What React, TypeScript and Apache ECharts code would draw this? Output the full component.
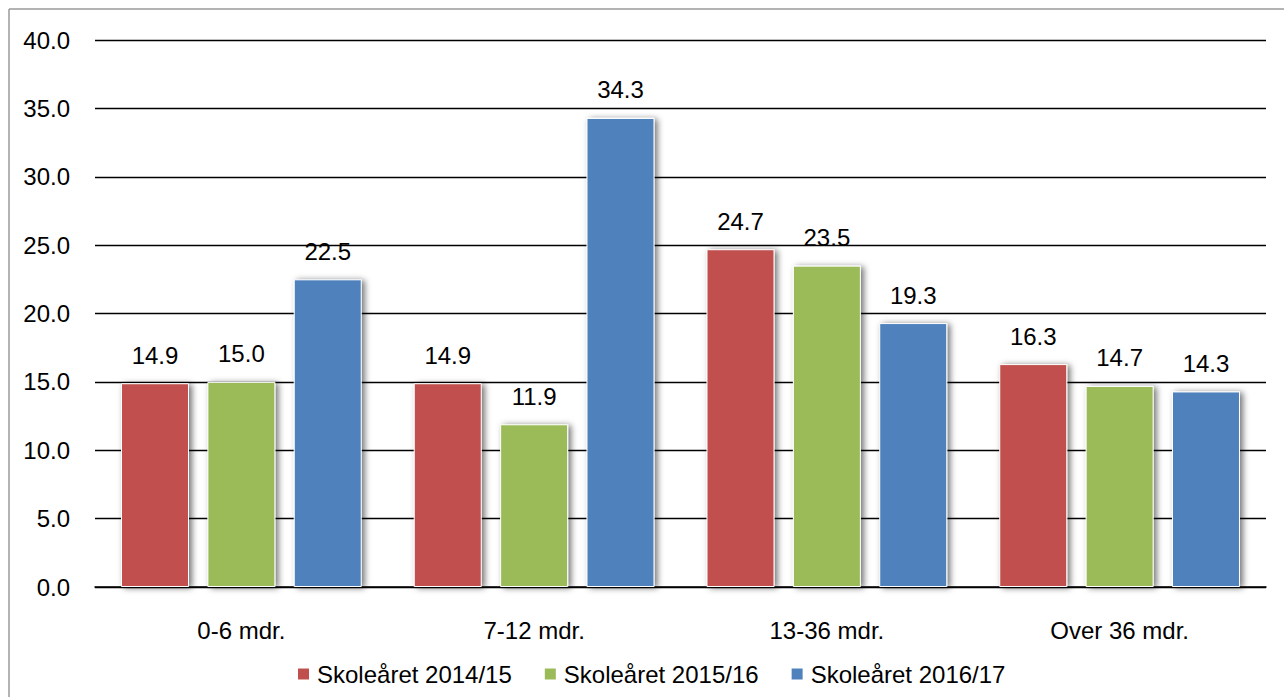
import React, { useEffect, useRef } from "react";
import * as echarts from "echarts";

const categories = ["0-6 mdr.", "7-12 mdr.", "13-36 mdr.", "Over 36 mdr."];
const seriesNames = ["Skoleåret 2014/15", "Skoleåret 2015/16", "Skoleåret 2016/17"];
const values2014 = [14.9, 14.9, 24.7, 16.3];
const values2015 = [15.0, 11.9, 23.5, 14.7];
const values2016 = [22.5, 34.3, 19.3, 14.3];
const colors = ["#C0504D", "#9BBB59", "#4F81BD"];

const FONT = "'Liberation Sans', Arial, sans-serif";
const FS = 24;

export default function App() {
  const ref = useRef<HTMLDivElement>(null);
  useEffect(() => {
    if (!ref.current) return;
    const chart = echarts.init(ref.current, null, { renderer: "svg" });
    const allValues = [values2014, values2015, values2016];
    chart.setOption({
      animation: false,
      backgroundColor: "#ffffff",
      textStyle: { fontFamily: FONT },
      graphic: [
        { type: "line", shape: { x1: 9, y1: 9, x2: 1284, y2: 9 }, style: { stroke: "#9a9a9a", lineWidth: 1.5 } },
        { type: "line", shape: { x1: 9, y1: 9, x2: 9, y2: 697 }, style: { stroke: "#9a9a9a", lineWidth: 1.5 } },
      ],
      grid: { left: 95, right: 18, top: 40, bottom: 110, containLabel: false },
      legend: {
        left: 296,
        top: 662,
        padding: 0,
        itemWidth: 13,
        itemHeight: 13,
        itemGap: 31,
        icon: "rect",
        textStyle: { fontSize: FS, color: "#000", fontFamily: FONT, padding: [0, 0, 0, 2] },
        data: seriesNames,
      },
      xAxis: {
        type: "category",
        data: categories,
        axisLine: { lineStyle: { color: "#000", width: 1.5 } },
        axisTick: { show: false },
        axisLabel: { fontSize: FS, color: "#000", margin: 31, fontFamily: FONT },
      },
      yAxis: {
        type: "value",
        min: 0,
        max: 40,
        interval: 5,
        axisLine: { show: false },
        axisTick: { show: false },
        axisLabel: {
          fontSize: FS,
          color: "#000",
          margin: 25,
          fontFamily: FONT,
          formatter: (v: number) => v.toFixed(1),
        },
        splitLine: { lineStyle: { color: "#000", width: 1.3 } },
      },
      series: seriesNames.map((name, i) => ({
        name,
        type: "bar",
        data: allValues[i],
        barWidth: 68,
        barGap: "27%",
        itemStyle: {
          color: colors[i],
          borderColor: "#ffffff",
          borderWidth: 1,
          shadowColor: "rgba(0,0,0,0.55)",
          shadowBlur: 6,
          shadowOffsetX: 3,
          shadowOffsetY: 1,
        },
        label: {
          show: true,
          position: "top",
          distance: 16,
          fontSize: FS,
          color: "#000",
          fontFamily: FONT,
          formatter: (p: any) => Number(p.value).toFixed(1),
        },
      })),
    });
    return () => chart.dispose();
  }, []);
  return (
    <div
      ref={ref}
      style={{ position: "fixed", left: 0, top: 0, width: 1284, height: 697 }}
    />
  );
}
